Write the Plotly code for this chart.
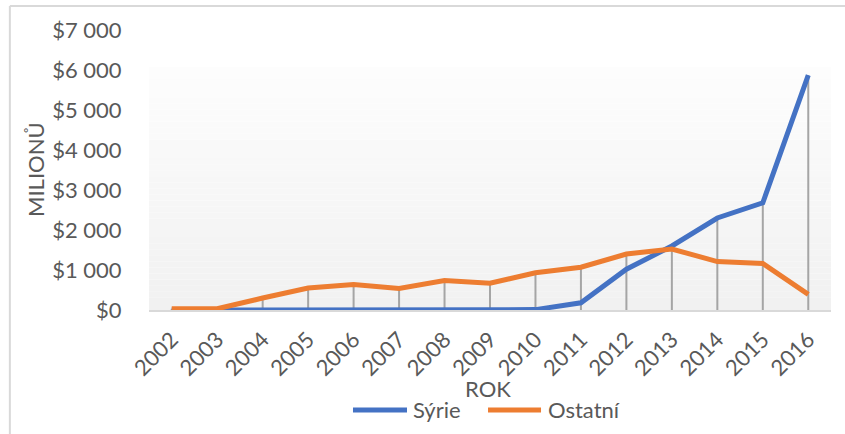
import plotly.graph_objects as go

# Data: yearly amounts in millions of USD
years = ["2002", "2003", "2004", "2005", "2006", "2007", "2008", "2009",
         "2010", "2011", "2012", "2013", "2014", "2015", "2016"]
syrie = [0, 0, 0, 0, 0, 0, 0, 0, 10, 180, 1020, 1600, 2300, 2680, 5870]
ostatni = [30, 30, 300, 550, 640, 540, 735, 670, 930, 1070, 1400, 1525, 1210, 1165, 390]

y_ticks = [0, 1000, 2000, 3000, 4000, 5000, 6000, 7000]
y_tick_labels = ["$0", "$1 000", "$2 000", "$3 000", "$4 000", "$5 000", "$6 000", "$7 000"]

FONT = "Lato"
TEXT = "#595959"
BLUE = "#4472C4"
ORANGE = "#ED7D31"
DROP = "#A5A5A5"
FS = 22

fig = go.Figure()

# Drop lines from the higher series down to the category axis
drop_x, drop_y = [], []
for yr, a, b in zip(years, syrie, ostatni):
    drop_x += [yr, yr, None]
    drop_y += [0, max(a, b), None]
fig.add_trace(go.Scatter(x=drop_x, y=drop_y, mode="lines",
                         line=dict(color=DROP, width=2),
                         showlegend=False, hoverinfo="skip"))

series = [("Sýrie", syrie, BLUE), ("Ostatní", ostatni, ORANGE)]
for name, vals, col in series:
    fig.add_trace(go.Scatter(x=years, y=vals, mode="lines", name=name,
                             line=dict(color=col, width=5),
                             showlegend=False))

# Soft vertical gradient behind the plot
shapes = []
n = 40
top = 0.868
for i in range(n):
    t = i / (n - 1)
    c = int(round(253 - (253 - 241) * (1 - t)))
    shapes.append(dict(type="rect", xref="paper", yref="paper",
                       x0=0, x1=1, y0=top * i / n, y1=top * (i + 1) / n,
                       fillcolor=f"rgb({c},{c},{c})", line=dict(width=0),
                       layer="below"))
# Chart frame (left and top edges)
shapes.append(dict(type="line", xref="paper", yref="paper",
                   x0=-0.204, x1=-0.204, y0=-0.5, y1=1.086,
                   line=dict(color="#D9D9D9", width=2)))
shapes.append(dict(type="line", xref="paper", yref="paper",
                   x0=-0.204, x1=1.03, y0=1.086, y1=1.086,
                   line=dict(color="#D9D9D9", width=2)))

# Legend drawn below the axis title
annotations = []
legend_y = -0.357
legend_pos = [(0.2991, 0.3783, 0.3842), (0.4971, 0.5748, 0.5821)]
for (name, _, col), (lx0, lx1, tx) in zip(series, legend_pos):
    shapes.append(dict(type="line", xref="paper", yref="paper",
                       x0=lx0, x1=lx1, y0=legend_y, y1=legend_y,
                       line=dict(color=col, width=5)))
    annotations.append(dict(text=name, xref="paper", yref="paper",
                            x=tx, y=legend_y, xanchor="left", yanchor="middle",
                            showarrow=False,
                            font=dict(family=FONT, size=FS, color=TEXT)))

# Axis titles
annotations.append(dict(text="ROK", xref="paper", yref="paper",
                        x=0.497, y=-0.279, xanchor="center", yanchor="middle",
                        showarrow=False, font=dict(family=FONT, size=FS, color=TEXT)))
annotations.append(dict(text="MILIONŮ", xref="paper", yref="paper",
                        x=(35 - 149) / 682, y=(310 - 170) / 280,
                        xanchor="center", yanchor="middle", textangle=-90,
                        showarrow=False, font=dict(family=FONT, size=FS, color=TEXT)))

fig.update_layout(
    width=845, height=434,
    margin=dict(l=149, r=14, t=30, b=124),
    paper_bgcolor="white", plot_bgcolor="rgba(0,0,0,0)",
    font=dict(family=FONT, color=TEXT, size=FS),
    shapes=shapes,
    annotations=annotations,
    showlegend=False,
    xaxis=dict(type="category", range=[-0.5, 14.5], showgrid=False,
               showline=True, linecolor="#D9D9D9", linewidth=2,
               ticks="outside", ticklen=6, tickcolor="rgba(0,0,0,0)",
               tickangle=-45, tickfont=dict(family=FONT, size=FS, color=TEXT),
               automargin=False, zeroline=False),
    yaxis=dict(range=[0, 7000], showgrid=False, showline=False, zeroline=False,
               tickvals=y_ticks, ticktext=y_tick_labels,
               ticks="outside", ticklen=22, tickcolor="rgba(0,0,0,0)",
               tickfont=dict(family=FONT, size=FS, color=TEXT),
               automargin=False),
)

fig.write_html("out.html")
